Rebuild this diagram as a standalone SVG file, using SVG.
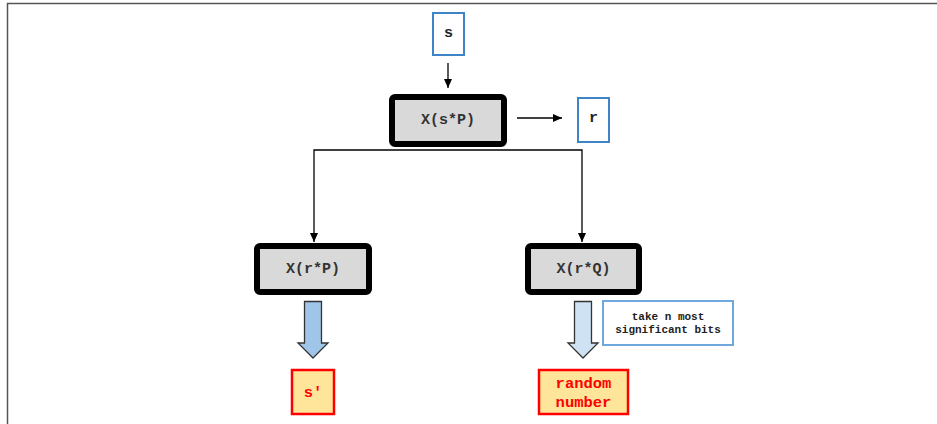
<svg xmlns="http://www.w3.org/2000/svg" width="937" height="424" viewBox="0 0 937 424">
<defs>
<style>
.t{font-family:"Liberation Mono","Courier New",monospace;font-weight:bold;text-anchor:middle;dominant-baseline:central}
.op rect{fill:#d9d9d9;stroke:#000;stroke-width:6}
.op text{font-size:15px;fill:#333}
.var rect{fill:#fff;stroke:#3d85c6;stroke-width:2}
.var text{font-size:15px;fill:#222}
.out rect{fill:#ffe599;stroke:#ff0000;stroke-width:2.5}
.out text{font-size:15.5px;fill:#ff0000}
.ln{fill:none;stroke:#000;stroke-width:1.3}
.big{stroke:#333;stroke-width:1.3;stroke-linejoin:miter}
</style>
<marker id="ah" markerWidth="10" markerHeight="10" refX="9" refY="5" orient="auto" markerUnits="userSpaceOnUse">
<path d="M0,1 L9,5 L0,9 Z" fill="#000"/>
</marker>
</defs>
<rect x="0" y="0" width="937" height="424" fill="#fff"/>
<path d="M7.5,424 V3.5 H937" fill="none" stroke="#555" stroke-width="1.5"/>

<g id="s" class="var"><rect x="433" y="13" width="31" height="42"/><text class="t" x="448.5" y="33">s</text></g>
<g id="xsp" class="op"><rect x="392" y="97" width="112" height="47" rx="3"/><text class="t" x="448" y="120.5">X(s*P)</text></g>
<g id="r" class="var"><rect x="578" y="98" width="31" height="44"/><text class="t" x="593.5" y="118">r</text></g>
<g id="xrp" class="op"><rect x="257" y="246" width="112" height="46" rx="3"/><text class="t" x="313" y="269">X(r*P)</text></g>
<g id="xrq" class="op"><rect x="528" y="246" width="111" height="46" rx="3"/><text class="t" x="583.5" y="269">X(r*Q)</text></g>
<g id="sprime" class="out"><rect x="292" y="370" width="42" height="44"/><text class="t" x="313" y="393">s′</text></g>
<g id="rand" class="out"><rect x="539" y="370" width="89" height="44"/><text class="t" x="583.5" y="384">random</text><text class="t" x="583.5" y="403">number</text></g>
<g id="note"><rect x="603" y="301" width="130" height="44" fill="#fff" stroke="#6fa8dc" stroke-width="2"/><text class="t" x="668" y="317" font-size="11px" fill="#222">take n most</text><text class="t" x="668" y="330" font-size="11px" fill="#222">significant bits</text></g>

<g id="connectors">
<path class="ln" d="M448,63 V88" marker-end="url(#ah)"/>
<path class="ln" d="M517,118 H562" marker-end="url(#ah)"/>
<path class="ln" d="M448,150 H314 V242" marker-end="url(#ah)"/>
<path class="ln" d="M448,150 H582 V242" marker-end="url(#ah)"/>
<path class="big" d="M304.5,301.5 H321.5 V343 H328 L313,358 L298,343 H304.5 Z" fill="#9fc5e8"/>
<path class="big" d="M574.5,301.5 H591.5 V343 H598 L583,358 L568,343 H574.5 Z" fill="#cfe2f3"/>
</g>
</svg>
